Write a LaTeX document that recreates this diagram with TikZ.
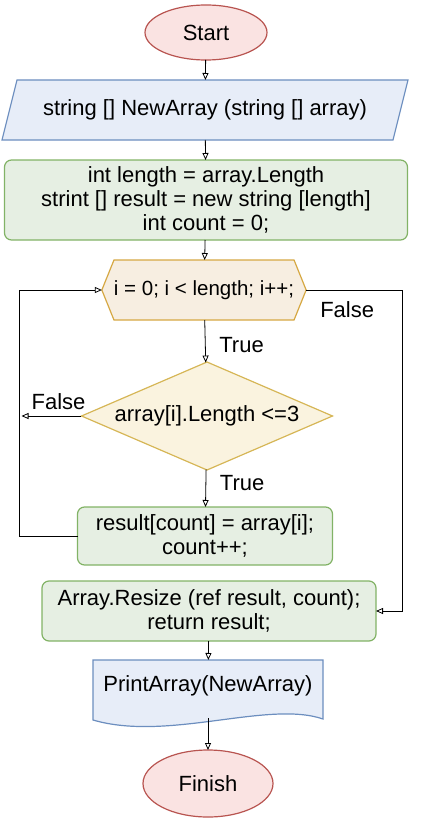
\documentclass[tikz,border=0pt]{standalone}
\usepackage{fontspec}
\setmainfont{Liberation Sans}
\usetikzlibrary{positioning}
\usetikzlibrary{backgrounds}
\usetikzlibrary{shapes.geometric,shapes.symbols,arrows.meta,calc}
\definecolor{redline}{HTML}{B85450}
\definecolor{redfill}{HTML}{FAE3E2}
\definecolor{blueline}{HTML}{6C8EBF}
\definecolor{bluefill}{HTML}{E7EDF8}
\definecolor{greenline}{HTML}{82B366}
\definecolor{greenfill}{HTML}{E6EFE3}
\definecolor{loopline}{HTML}{D6A843}
\definecolor{loopfill}{HTML}{F7EEE1}
\definecolor{condline}{HTML}{D6B656}
\definecolor{condfill}{HTML}{FAF3DF}
\tikzstyle{terminal}=[ellipse,draw=redline,fill=redfill,line width=1.2pt]
\tikzstyle{process}=[rectangle,rounded corners=7pt,draw=greenline,fill=greenfill,align=center,line width=1.2pt]
\tikzstyle{loopbox}=[signal,signal to=east and west,signal pointer angle=136,draw=loopline,fill=loopfill,line width=1.2pt,font=\fontsize{20.5}{24}\selectfont]
\tikzstyle{decision}=[diamond,aspect=2.32,draw=condline,fill=condfill,line width=1.2pt]
\tikzstyle{docline}=[draw=blueline,fill=bluefill,line width=1.2pt]
\tikzstyle{arrow}=[-{Triangle[open,length=7pt,width=6pt]},line width=0.8pt]

\begin{document}
\begin{tikzpicture}[font=\fontsize{22}{24}\selectfont,inner sep=0pt,outer sep=0pt]
    \useasboundingbox (0,0) rectangle (422pt,-832pt);
    \node (start) [terminal,minimum width=122pt,minimum height=55pt] at (206pt,-32.5pt) {Start};

\node (func) [below=20pt of start, xshift=-1pt, minimum width=391pt, minimum height=60pt]{string [] NewArray (string [] array)};
\node (init) [below=20pt of func, xshift=1pt, process, minimum width=403pt, minimum height=80pt]{int length = array.Length\\strint [] result = new string [length]\\int count = 0;};
\node (loop) [below=20pt of init, xshift=-2pt, loopbox, minimum width=200pt, minimum height=60pt]{i = 0; i < length; i++;};
\node (cond) [below=42pt of loop, xshift=3pt, decision, minimum width=251pt, minimum height=108pt]{array[i].Length <=3};
\node (body) [below=37pt of cond, xshift=-2pt, process, minimum width=255pt, minimum height=58pt]{result[count] = array[i];\\count++;};
\node (resize) [below=16pt of body, xshift=4pt, process, minimum width=334pt, minimum height=60pt]{Array.Resize (ref result, count);\\return result;};
\node (print) [below=19pt of resize, xshift=-1pt, minimum width=230pt, minimum height=52pt]{PrintArray(NewArray)};
\node (finish) [below=38pt of print, terminal, minimum width=130pt, minimum height=67pt]{Finish};
\begin{scope}[on background layer]
\draw[docline] ($(func.north west)+(7.5pt,0)$) -- ($(func.north east)+(7.5pt,0)$) -- ($(func.south east)+(-7.5pt,0)$) -- ($(func.south west)+(-7.5pt,0)$) -- cycle;
\draw[docline] (print.north west) -- (print.north east) -- ($(print.south east)+(0,-7pt)$)
    .. controls ($(print.south)+(60pt,12pt)$) and ($(print.south)+(-40pt,-30pt)$) .. ($(print.south west)+(0,-8pt)$) -- cycle;
\end{scope}
\coordinate (condleft) at ($(cond.west)+(-60pt,0)$);

\draw[arrow] (start) -- (func);
\draw[arrow] (func) -- (init);
\draw[arrow] (init) -- (loop);
\draw[arrow] (loop) -- node[right=14pt,pos=0.6]{True} (cond);
\draw[arrow] (cond) -- node[right=14pt,pos=0.35]{True} (body);
\draw[arrow] (cond) -- node[above=6pt,xshift=7pt]{False} (condleft);
\draw[arrow] (body.west) -- ++(-58pt,0) |- (loop.west);
\draw[arrow] (loop.east) -- node[below=12pt,xshift=-7pt]{False} ++(96pt,0) |- (resize.east);
\draw[arrow] ($(print.south)+(0,-6pt)$) -- (finish);
\draw[arrow] (resize) -- (print);
\end{tikzpicture}
\end{document}
